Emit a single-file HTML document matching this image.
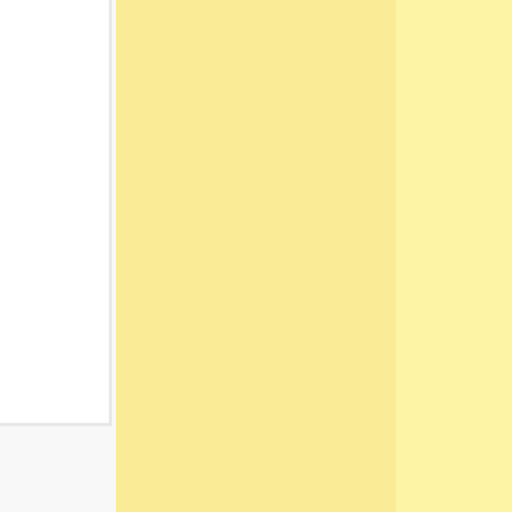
<!DOCTYPE html>
<html><head><meta charset="utf-8"><style>
html,body{margin:0;padding:0;}
body{width:512px;height:512px;position:relative;overflow:hidden;background:#f8f8f8;font-family:"Liberation Sans",sans-serif;}
div{position:absolute;}
</style></head><body>
<div style="left:0;top:0;width:109px;height:423px;background:#ffffff;"></div>
<div style="left:109px;top:0;width:3px;height:426px;background:#e6e6e6;filter:blur(0.6px);"></div>
<div style="left:0;top:423px;width:112px;height:3px;background:#e6e6e6;filter:blur(0.6px);"></div>
<div style="left:112px;top:0;width:4px;height:512px;background:#f8f8f8;"></div>
<div style="left:116px;top:0;width:280px;height:512px;background:#faeb96;"></div>
<div style="left:396px;top:0;width:116px;height:512px;background:#fdf4a6;"></div>
</body></html>
